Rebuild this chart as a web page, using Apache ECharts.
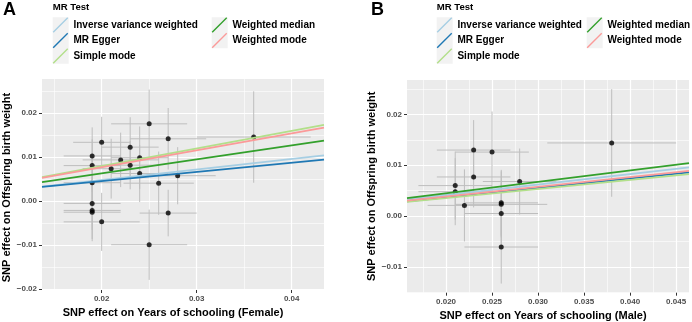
<!DOCTYPE html>
<html>
<head>
<meta charset="utf-8">
<script src="https://cdn.jsdelivr.net/npm/echarts@6/dist/echarts.min.js"></script>
<style>
  html, body { margin: 0; padding: 0; background: #fff; }
  #chart { width: 692px; height: 322px; }
</style>
</head>
<body>
<div id="chart"></div>
<script>
// MR methods, drawn in this order (later on top)
const methods = ['Inverse variance weighted', 'MR Egger', 'Simple mode', 'Weighted median', 'Weighted mode']
const methodColors = ['#A6CEE3', '#1F78B4', '#B2DF8A', '#33A02C', '#FB9A99']

// Panel A: female SNPs
const femaleX = [0.019, 0.019, 0.019, 0.019, 0.019, 0.019, 0.020, 0.020, 0.021, 0.022, 0.023, 0.023, 0.024, 0.024, 0.025, 0.025, 0.026, 0.027, 0.027, 0.028, 0.036]
const femaleY = [0.0103, 0.0081, 0.0042, -0.0005, -0.0021, -0.0025, 0.0134, -0.0047, 0.0074, 0.0094, 0.0123, 0.0082, 0.0099, 0.0063, 0.0176, -0.0099, 0.0041, 0.0142, -0.0027, 0.0058, 0.0146]
const femaleXse = [0.003, 0.003, 0.003, 0.003, 0.003, 0.003, 0.003, 0.004, 0.003, 0.004, 0.003, 0.003, 0.003, 0.003, 0.004, 0.004, 0.0037, 0.004, 0.003, 0.004, 0.006]
const femaleYse = [0.0065, 0.006, 0.006, 0.006, 0.0065, 0.0066, 0.0058, 0.0066, 0.0068, 0.0062, 0.0068, 0.0055, 0.0071, 0.0065, 0.0078, 0.008, 0.0072, 0.007, 0.0053, 0.0065, 0.0104]
const femaleSlope = [0.24, 0.209, 0.40, 0.318, 0.386]
const femaleIntercept = [0, 0.0004, 0, 0, 0]

// Panel B: male SNPs
const maleX = [0.021, 0.021, 0.022, 0.023, 0.023, 0.025, 0.026, 0.026, 0.026, 0.026, 0.028, 0.038]
const maleY = [0.0060, 0.0048, 0.0021, 0.0130, 0.0077, 0.0126, 0.0026, 0.0023, 0.0005, -0.0061, 0.0068, 0.0144]
const maleXse = [0.004, 0.004, 0.004, 0.004, 0.004, 0.004, 0.004, 0.005, 0.004, 0.004, 0.004, 0.007]
const maleYse = [0.0067, 0.0066, 0.0071, 0.0059, 0.006, 0.008, 0.0065, 0.0065, 0.006, 0.0072, 0.0065, 0.0106]
const maleSlope = [0.207, 0.185, 0.178, 0.225, 0.192]
const maleIntercept = [0, 0, 0, 0, 0]

// axis ranges and ticks
const femaleXRange = [0.01372, 0.0434]
const femaleYRange = [-0.0202, 0.0278]
const femaleXTicks = [0.02, 0.03, 0.04]
const femaleXMinor = [0.015, 0.025, 0.035]
const femaleYTicks = [-0.02, -0.01, 0, 0.01, 0.02]
const femaleYMinor = [-0.015, -0.005, 0.005, 0.015, 0.025]

const maleXRange = [0.01576, 0.0464]
const maleYRange = [-0.0151, 0.0268]
const maleXTicks = [0.020, 0.025, 0.030, 0.035, 0.040, 0.045]
const maleXMinor = [0.0175, 0.0225, 0.0275, 0.0325, 0.0375, 0.0425]
const maleYTicks = [-0.01, 0, 0.01, 0.02]
const maleYMinor = [-0.015, -0.005, 0.005, 0.015, 0.025]

const fontFamily = '"Liberation Sans", Arial, Helvetica, sans-serif'
const keyIcon = 'path://M0,15 L15,0 L16,1 L1,16 Z'

const fmt = (digits) => (v) => (+v).toFixed(digits).replace('-', '\u2212')

function majorAxis(gridIndex, range, ticks, digits, name, gap, namePad) {
  return {
    gridIndex,
    type: 'value',
    min: range[0],
    max: range[1],
    name,
    nameLocation: 'middle',
    nameGap: gap,
    nameTextStyle: { fontFamily, fontSize: 11, fontWeight: 'bold', color: '#000', padding: namePad },
    axisLine: { show: false, onZero: false },
    axisTick: { show: true, length: 3, customValues: ticks, lineStyle: { color: '#333', width: 1 } },
    axisLabel: { customValues: ticks, formatter: fmt(digits), fontFamily, fontSize: 8, fontWeight: 'bold', color: '#4D4D4D', margin: 5 },
    splitLine: { show: true, lineStyle: { color: '#fff', width: 1.2 } },
  }
}

function minorAxis(gridIndex, range, ticks) {
  return {
    gridIndex,
    type: 'value',
    min: range[0],
    max: range[1],
    axisLine: { show: false, onZero: false },
    axisTick: { show: false, customValues: ticks },
    axisLabel: { show: false },
    splitLine: { show: true, lineStyle: { color: '#fff', width: 0.6 } },
  }
}

function panelSeries(axisIndex, xs, ys, xse, yse, slope, intercept, xRange) {
  const pts = xs.map((x, i) => [x, ys[i], xse[i], yse[i]])
  const list = [
    {
      type: 'custom',
      xAxisIndex: axisIndex,
      yAxisIndex: axisIndex,
      silent: true,
      clip: true,
      z: 2,
      data: pts,
      renderItem(params, api) {
        const x = api.value(0), y = api.value(1), dx = api.value(2), dy = api.value(3)
        const l = api.coord([x - dx, y]), r = api.coord([x + dx, y])
        const t = api.coord([x, y + dy]), b = api.coord([x, y - dy])
        const style = { stroke: '#BEBEBE', lineWidth: 1 }
        return {
          type: 'group',
          children: [
            { type: 'line', shape: { x1: l[0], y1: l[1], x2: r[0], y2: r[1] }, style },
            { type: 'line', shape: { x1: t[0], y1: t[1], x2: b[0], y2: b[1] }, style },
          ],
        }
      },
    },
    {
      type: 'scatter',
      xAxisIndex: axisIndex,
      yAxisIndex: axisIndex,
      silent: true,
      z: 3,
      symbolSize: 5,
      itemStyle: { color: '#000' },
      data: pts.map((p) => [p[0], p[1]]),
    },
  ]
  methods.forEach((m, i) => {
    const line = xRange.map((x) => [x, slope[i] * x + intercept[i]])
    list.push({
      type: 'line',
      name: m,
      xAxisIndex: axisIndex,
      yAxisIndex: axisIndex,
      silent: true,
      z: 4,
      symbol: 'none',
      itemStyle: { color: methodColors[i] },
      lineStyle: { color: methodColors[i], width: 1.8 },
      data: line,
    })
  })
  return list
}

function legendFor(names, left) {
  return {
    data: names,
    orient: 'vertical',
    left,
    top: 17.25,
    padding: 0,
    itemGap: 0,
    itemWidth: 16,
    itemHeight: 15.5,
    icon: keyIcon,
    selectedMode: false,
    itemStyle: { borderWidth: 0 },
    textStyle: { fontFamily, fontSize: 10, fontWeight: 'bold', color: '#000' },
  }
}

function keyBox(left, rows) {
  return { type: 'rect', left, top: 17.25, shape: { width: 16, height: 15.5 * rows }, style: { fill: '#F2F2F2' }, z: -1 }
}

const panelTitle = (text, left) => ({ text, left, top: 1, padding: 0, textStyle: { fontFamily, fontSize: 18, fontWeight: 'bold', color: '#000' } })
const legendTitle = (left) => ({ text: 'MR Test', left, top: 2, padding: 0, textStyle: { fontFamily, fontSize: 9.6, fontWeight: 'bold', color: '#000' } })

const chart = echarts.init(document.getElementById('chart'))
chart.setOption({
  animation: false,
  backgroundColor: '#fff',
  title: [panelTitle('A', 3), legendTitle(52.7), panelTitle('B', 371), legendTitle(436.7)],
  legend: [
    legendFor(methods.slice(0, 3), 52.7),
    legendFor(methods.slice(3), 211.7),
    legendFor(methods.slice(0, 3), 436.7),
    legendFor(methods.slice(3), 586.7),
  ],
  graphic: [keyBox(52.7, 3), keyBox(211.7, 2), keyBox(436.7, 3), keyBox(586.7, 2)],
  grid: [
    { left: 42, top: 79, width: 282, height: 211, show: true, backgroundColor: '#EBEBEB', borderWidth: 0, containLabel: false, outerBoundsMode: 'none' },
    { left: 407, top: 80, width: 282, height: 212.7, show: true, backgroundColor: '#EBEBEB', borderWidth: 0, containLabel: false, outerBoundsMode: 'none' },
  ],
  xAxis: [
    majorAxis(0, femaleXRange, femaleXTicks, 2, 'SNP effect on Years of schooling (Female)', 16, [0, 20, 0, 0]),
    majorAxis(1, maleXRange, maleXTicks, 3, 'SNP effect on Years of schooling (Male)', 16, [0, 10, 0, 0]),
    minorAxis(0, femaleXRange, femaleXMinor),
    minorAxis(1, maleXRange, maleXMinor),
  ],
  yAxis: [
    majorAxis(0, femaleYRange, femaleYTicks, 2, 'SNP effect on Offspring birth weight', 28, [0, 6, 0, 0]),
    majorAxis(1, maleYRange, maleYTicks, 2, 'SNP effect on Offspring birth weight', 29, [0, 0, 0, 0]),
    minorAxis(0, femaleYRange, femaleYMinor),
    minorAxis(1, maleYRange, maleYMinor),
  ],
  series: [
    ...panelSeries(0, femaleX, femaleY, femaleXse, femaleYse, femaleSlope, femaleIntercept, femaleXRange),
    ...panelSeries(1, maleX, maleY, maleXse, maleYse, maleSlope, maleIntercept, maleXRange),
  ],
})
</script>
</body>
</html>
